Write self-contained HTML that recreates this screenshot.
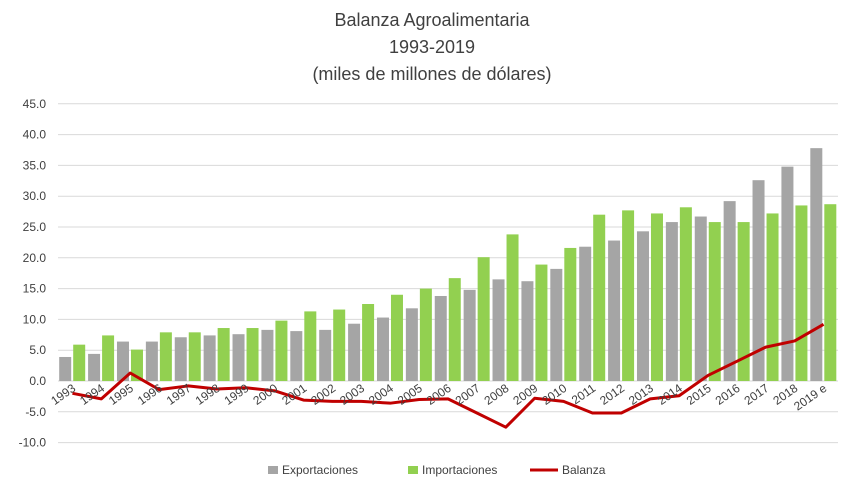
<!DOCTYPE html>
<html><head><meta charset="utf-8"><style>
body{margin:0;background:#fff;font-family:"Liberation Sans",sans-serif}
</style></head><body>
<svg id="c" width="864" height="491" xmlns="http://www.w3.org/2000/svg">
<rect width="864" height="491" fill="#fff"/>
<g font-size="18" fill="#404040" text-anchor="middle">
<text x="432" y="26">Balanza Agroalimentaria</text>
<text x="432" y="53">1993-2019</text>
<text x="432" y="80">(miles de millones de dólares)</text>
</g>
<g id="grid"></g><g id="bars"></g><g id="line"></g><g id="xl"></g>
<g font-size="12" fill="#404040">
<rect x="268" y="466" width="10" height="8" fill="#a5a5a5"/>
<text x="282" y="474">Exportaciones</text>
<rect x="408" y="466" width="10" height="8" fill="#92d050"/>
<text x="422" y="474">Importaciones</text>
<line x1="530" y1="470" x2="558" y2="470" stroke="#c00000" stroke-width="3"/>
<text x="562" y="474">Balanza</text>
</g>
</svg>
<script>
const years=["1993","1994","1995","1996","1997","1998","1999","2000","2001","2002","2003","2004","2005","2006","2007","2008","2009","2010","2011","2012","2013","2014","2015","2016","2017","2018","2019 e"];
const exportaciones=[3.9,4.4,6.4,6.4,7.1,7.4,7.6,8.3,8.1,8.3,9.3,10.3,11.8,13.8,14.8,16.5,16.2,18.2,21.8,22.8,24.3,25.8,26.7,29.2,32.6,34.8,37.8];
const importaciones=[5.9,7.4,5.1,7.9,7.9,8.6,8.6,9.8,11.3,11.6,12.5,14.0,15.0,16.7,20.1,23.8,18.9,21.6,27.0,27.7,27.2,28.2,25.8,25.8,27.2,28.5,28.7];
const balanza=[-2.0,-2.9,1.3,-1.4,-0.8,-1.3,-1.1,-1.6,-3.1,-3.3,-3.3,-3.6,-3.0,-2.9,-5.2,-7.5,-2.8,-3.3,-5.2,-5.2,-2.9,-2.4,0.9,3.2,5.5,6.5,9.2];
const yTicks=[45,40,35,30,25,20,15,10,5,0,-5,-10];
const NS="http://www.w3.org/2000/svg";
const X0=58,X1=838,Y0=381,PU=6.16;
const bw=(X1-X0)/years.length;
const y=v=>Y0-v*PU;
const cx=i=>X0+bw*(i+0.5);
function mk(t,a,p){const e=document.createElementNS(NS,t);for(const k in a)e.setAttribute(k,a[k]);p.appendChild(e);return e;}
const grid=document.getElementById('grid');
yTicks.forEach(v=>{
 const l=mk('line',{x1:X0,x2:X1,y1:y(v),y2:y(v),stroke:'#d9d9d9','stroke-width':1},grid);
 
 
 const t=mk('text',{x:46,y:y(v)+4,'text-anchor':'end','font-size':12,fill:'#404040'},grid);
 t.textContent=v.toFixed(1);
 
 
});
const bars=document.getElementById('bars');
years.forEach((yr,i)=>{
 const s=X0+bw*i;
 const b1=mk('rect',{x:s+1.2,y:y(exportaciones[i]),width:12,height:exportaciones[i]*PU,fill:'#a5a5a5'},bars);
 
 
 const b2=mk('rect',{x:s+15.2,y:y(importaciones[i]),width:12,height:importaciones[i]*PU,fill:'#92d050'},bars);
 
 
 const t=mk('text',{x:cx(i)+4,y:390,'text-anchor':'end','font-size':12,fill:'#404040',transform:`rotate(-35 ${cx(i)+4} 390)`},document.getElementById('xl'));
 t.textContent=yr;
 
 
});
const pl=mk('polyline',{points:balanza.map((v,i)=>cx(i)+','+y(v)).join(' '),fill:'none',stroke:'#c00000','stroke-width':3,'stroke-linejoin':'round'},document.getElementById('line'));


</script>
</body></html>
